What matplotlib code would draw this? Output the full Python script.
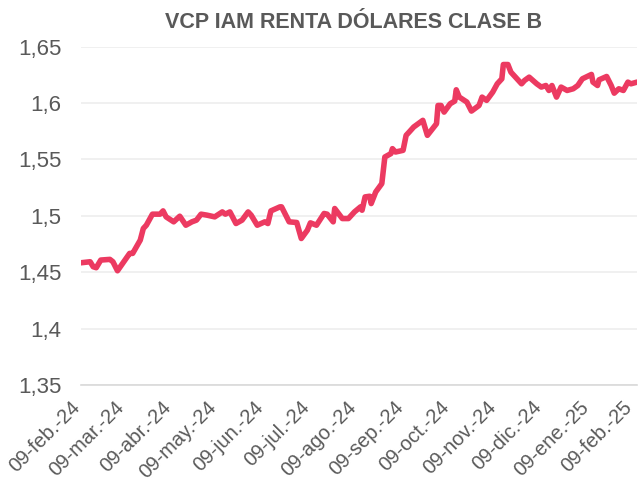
import matplotlib
matplotlib.use("Agg")
import matplotlib.pyplot as plt
import matplotlib.transforms as mtransforms
import pandas as pd

plt.rcParams['font.family'] = ['Liberation Sans', 'DejaVu Sans']

TITLE = "VCP IAM RENTA DÓLARES CLASE B"

# valores (aprox.)
dates = [
    "2024-02-09", "2024-02-15", "2024-02-17", "2024-02-19", "2024-02-22", "2024-02-28",
    "2024-03-01", "2024-03-04", "2024-03-12", "2024-03-14", "2024-03-19", "2024-03-21",
    "2024-03-23", "2024-03-27", "2024-04-01", "2024-04-03", "2024-04-05", "2024-04-10",
    "2024-04-14", "2024-04-18", "2024-04-22", "2024-04-25", "2024-04-28", "2024-05-02",
    "2024-05-07", "2024-05-12", "2024-05-14", "2024-05-17", "2024-05-21", "2024-05-25",
    "2024-05-29", "2024-05-31", "2024-06-04", "2024-06-09", "2024-06-11", "2024-06-13",
    "2024-06-19", "2024-06-20", "2024-06-25", "2024-06-30", "2024-07-03", "2024-07-07",
    "2024-07-09", "2024-07-13", "2024-07-18", "2024-07-20", "2024-07-24", "2024-07-25",
    "2024-07-30", "2024-08-03", "2024-08-07", "2024-08-11", "2024-08-12", "2024-08-14",
    "2024-08-17", "2024-08-18", "2024-08-21", "2024-08-25", "2024-08-27", "2024-08-31",
    "2024-09-01", "2024-09-03", "2024-09-08", "2024-09-10", "2024-09-12", "2024-09-15",
    "2024-09-21", "2024-09-24", "2024-09-30", "2024-10-01", "2024-10-03", "2024-10-05",
    "2024-10-09", "2024-10-12", "2024-10-13", "2024-10-15", "2024-10-20", "2024-10-23",
    "2024-10-28", "2024-10-30", "2024-11-02", "2024-11-06", "2024-11-09", "2024-11-12",
    "2024-11-13", "2024-11-16", "2024-11-18", "2024-11-21", "2024-11-25", "2024-11-27",
    "2024-11-30", "2024-12-05", "2024-12-08", "2024-12-11", "2024-12-13", "2024-12-15",
    "2024-12-18", "2024-12-21", "2024-12-25", "2024-12-29", "2025-01-01", "2025-01-04",
    "2025-01-10", "2025-01-11", "2025-01-14", "2025-01-15", "2025-01-20", "2025-01-23",
    "2025-01-25", "2025-01-28", "2025-01-31", "2025-02-03", "2025-02-05", "2025-02-09",
]
vcp = [
    1.4584, 1.4593, 1.4549, 1.4540, 1.4608, 1.4614,
    1.4593, 1.4513, 1.4667, 1.4667, 1.4785, 1.4888,
    1.4917, 1.5015, 1.5015, 1.5044, 1.4991, 1.4947,
    1.4997, 1.4917, 1.4947, 1.4962, 1.5015, 1.5006,
    1.4991, 1.5035, 1.5015, 1.5035, 1.4932, 1.4962,
    1.5035, 1.5006, 1.4917, 1.4947, 1.4932, 1.5044,
    1.5080, 1.5080, 1.4947, 1.4941, 1.4799, 1.4873,
    1.4938, 1.4917, 1.5021, 1.5015, 1.4947, 1.5065,
    1.4976, 1.4976, 1.5035, 1.5080, 1.5050, 1.5168,
    1.5174, 1.5109, 1.5212, 1.5286, 1.5522, 1.5552,
    1.5596, 1.5566, 1.5581, 1.5714, 1.5743, 1.5788,
    1.5847, 1.5714, 1.5817, 1.5979, 1.5979, 1.5920,
    1.5994, 1.6018, 1.6118, 1.6053, 1.6009, 1.5929,
    1.5979, 1.6053, 1.6024, 1.6097, 1.6171, 1.6215,
    1.6342, 1.6342, 1.6274, 1.6230, 1.6171, 1.6201,
    1.6230, 1.6171, 1.6142, 1.6156, 1.6112, 1.6156,
    1.6053, 1.6142, 1.6112, 1.6127, 1.6156, 1.6215,
    1.6254, 1.6186, 1.6156, 1.6206, 1.6236, 1.6156,
    1.6088, 1.6127, 1.6112, 1.6186, 1.6171, 1.6186,
]

y_ticks = [1.35, 1.40, 1.45, 1.50, 1.55, 1.60, 1.65]
y_labels = ["1,35", "1,4", "1,45", "1,5", "1,55", "1,6", "1,65"]
x_tick_dates = pd.date_range("2024-02-09", periods=13, freq=pd.DateOffset(months=1))
x_labels = ["09-feb.-24", "09-mar.-24", "09-abr.-24", "09-may.-24", "09-jun.-24",
            "09-jul.-24", "09-ago.-24", "09-sep.-24", "09-oct.-24", "09-nov.-24",
            "09-dic.-24", "09-ene.-25", "09-feb.-25"]

fig = plt.figure(figsize=(6.39, 4.83), dpi=100)
ax = fig.add_axes([0.1268, 0.2029, 0.8701, 0.7004])

ax.plot(pd.to_datetime(dates), vcp, color="#EC3A61", linewidth=4.0,
        solid_joinstyle="round", solid_capstyle="round", zorder=3)

ax.set_ylim(1.35, 1.65)
ax.set_xlim(x_tick_dates[0], x_tick_dates[-1])
ax.set_yticks(y_ticks)
ax.set_yticklabels(y_labels)
ax.set_xticks(x_tick_dates)
ax.set_xticklabels(x_labels, rotation=45, ha="right", va="center", rotation_mode="anchor")

ax.grid(axis="y", color="#EEEEEE", linewidth=1.2)
ax.set_axisbelow(True)
for s in ["top", "right", "left"]:
    ax.spines[s].set_visible(False)
ax.spines["bottom"].set_color("#D9D9D9")
ax.spines["bottom"].set_linewidth(1.2)
ax.tick_params(axis="both", length=0, colors="#595959")
ax.tick_params(axis="y", labelsize=16, pad=14)
ax.tick_params(axis="x", labelsize=14.5, pad=0)

# desplazar etiquetas del eje x como en Excel (despues de tick_params)
xlbls = ax.get_xticklabels()
for i, lbl in enumerate(xlbls):
    dx = -8 if i == len(xlbls) - 1 else -4
    offset = mtransforms.ScaledTranslation(dx / 100, -19 / 100, fig.dpi_scale_trans)
    lbl.set_transform(lbl.get_transform() + offset)

fig.text(0.554, 0.953, TITLE, ha="center", va="center", fontsize=15.5,
         fontweight="bold", color="#595959")

fig.savefig("out.png", dpi=100)
